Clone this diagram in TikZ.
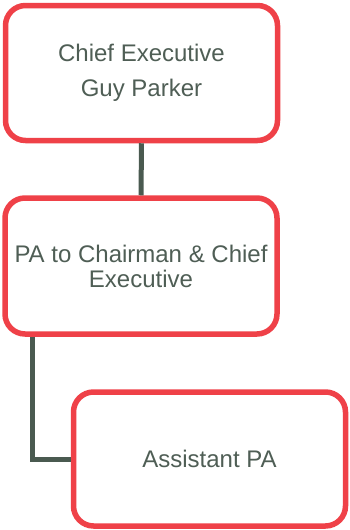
\documentclass[tikz,border=0pt]{standalone}
\usepackage{fontspec}
\setmainfont{Liberation Sans}
\usepackage{tikz}
\usetikzlibrary{positioning,calc}

\definecolor{boxred}{HTML}{EF4148}
\definecolor{textgrey}{HTML}{4F5E55}
\definecolor{linegrey}{HTML}{4A5A50}

\begin{document}
\begin{tikzpicture}[x=1pt, y=1pt,
  post/.style={draw=boxred, line width=5.5pt, rounded corners=20pt, fill=white,
    minimum width=272pt, minimum height=135pt, align=center, text=textgrey,
    inner sep=0pt},
  link/.style={draw=linegrey, line width=5pt}]
\useasboundingbox (0,0) rectangle (350,-530);
\node[post, font={\fontsize{24}{35}\selectfont}] (ceo) at (141.5,-73) {Chief Executive\\Guy Parker};
\node[post, minimum height=136pt, font={\fontsize{24}{25}\selectfont}] (pa) at (141,-266) {PA to Chairman \& Chief\\Executive};
\node[post, minimum height=134pt, font={\fontsize{24}{25}\selectfont}] (asst) at (209.5,-459) {Assistant PA};
\coordinate (elbow) at (32.5,-459);
\draw[link] (ceo) -- (pa);
\draw[link] (pa.south -| elbow) |- (asst.west);
\end{tikzpicture}
\end{document}
